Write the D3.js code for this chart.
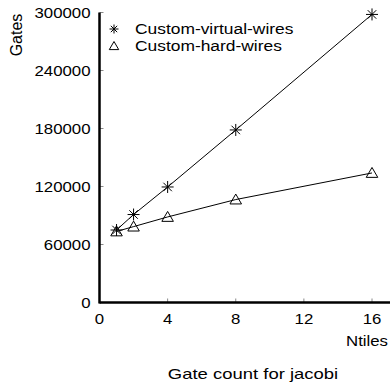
<!DOCTYPE html>
<html>
<head>
<meta charset="utf-8">
<script src="https://cdn.jsdelivr.net/npm/d3@7"></script>
<style>
    body { margin: 0; background: #fff; }
    svg { display: block; font-family: "Liberation Sans", Arial, sans-serif; }
</style>
</head>
<body>
<div id="chart"></div>
<script>
// data
const ntiles = [1, 2, 4, 8, 16];
const virtualWires = [75000, 91000, 119500, 178500, 298000];
const hardWires = [73500, 78500, 88500, 106500, 134000];
const xTicks = [0, 4, 8, 12, 16];
const yTicks = [0, 60000, 120000, 180000, 240000, 300000];
const seriesNames = ["Custom-virtual-wires", "Custom-hard-wires"];

const width = 390, height = 387;
const stretch = 1.2; // the original text is a bit wider than it is tall

const svg = d3.select("#chart")
    .append("svg")
    .attr("width", width)
    .attr("height", height);

const x = d3.scaleLinear().domain([0, 16]).range([99.5, 372]);
const y = d3.scaleLinear().domain([0, 300000]).range([302.5, 12.5]);

// text helper: place at (tx, ty), widen horizontally
const label = (sel, tx, ty, size, anchor) => sel
    .attr("transform", (d, i) => `translate(${tx(d, i)},${ty(d, i)}) scale(${stretch},1)`)
    .attr("text-anchor", anchor)
    .attr("font-size", size);

// ticks (inside the plot)
svg.append("g")
    .attr("stroke", "#888")
    .attr("stroke-width", 1)
    .selectAll("line")
    .data(xTicks.slice(1))
    .join("line")
    .attr("x1", d => x(d)).attr("x2", d => x(d))
    .attr("y1", y(0)).attr("y2", y(0) - 4);

svg.append("g")
    .attr("stroke", "#888")
    .attr("stroke-width", 1)
    .selectAll("line")
    .data(yTicks.slice(1))
    .join("line")
    .attr("x1", x(0)).attr("x2", x(0) + 4)
    .attr("y1", d => y(d)).attr("y2", d => y(d));

// axis lines
svg.append("line")
    .attr("x1", x(0)).attr("x2", width)
    .attr("y1", y(0)).attr("y2", y(0))
    .attr("stroke", "#000").attr("stroke-width", 2.5);
svg.append("line")
    .attr("x1", x(0)).attr("x2", x(0))
    .attr("y1", y(0) + 1).attr("y2", y(300000))
    .attr("stroke", "#000").attr("stroke-width", 2.5);

// tick labels
svg.append("g")
    .selectAll("text")
    .data(xTicks)
    .join("text")
    .call(label, d => x(d), () => y(0) + 21.5, 14, "middle")
    .text(d => d);

svg.append("g")
    .selectAll("text")
    .data(yTicks)
    .join("text")
    .call(label, () => x(0) - 9, d => y(d) + 5, 14, "end")
    .text(d => d);

// axis titles
svg.append("text")
    .attr("transform", "translate(22,35) rotate(-90)")
    .attr("text-anchor", "middle")
    .attr("font-size", 16)
    .text("Gates");

svg.append("text")
    .datum("Ntiles")
    .call(label, () => 367, () => 345.5, 14, "middle")
    .text(d => d);

svg.append("text")
    .datum("Gate count for jacobi")
    .call(label, () => 253, () => 379, 15.4, "middle")
    .text(d => d);

// markers
const asterisk = (g, cx, cy, r) => {
    const p = d3.path();
    for (let a = 0; a < 4; a++) {
        const t = a * Math.PI / 4;
        p.moveTo(cx - r * Math.cos(t), cy - r * Math.sin(t));
        p.lineTo(cx + r * Math.cos(t), cy + r * Math.sin(t));
    }
    g.append("path").attr("d", p.toString())
        .attr("stroke", "#000").attr("stroke-width", 1).attr("fill", "none");
};

const triangle = (g, cx, cy, r) => {
    const p = d3.path();
    p.moveTo(cx, cy - r);
    p.lineTo(cx + r * 1.05, cy + r * 0.8);
    p.lineTo(cx - r * 1.05, cy + r * 0.8);
    p.closePath();
    g.append("path").attr("d", p.toString())
        .attr("stroke", "#000").attr("stroke-width", 1).attr("fill", "none");
};

const line = d3.line()
    .x(d => x(d[0]))
    .y(d => y(d[1]));

const plot = svg.append("g");

plot.append("path")
    .datum(d3.zip(ntiles, hardWires))
    .attr("d", line)
    .attr("fill", "none").attr("stroke", "#000").attr("stroke-width", 1);

plot.append("path")
    .datum(d3.zip(ntiles, virtualWires))
    .attr("d", line)
    .attr("fill", "none").attr("stroke", "#000").attr("stroke-width", 1);

ntiles.forEach((n, i) => {
    triangle(plot, x(n), y(hardWires[i]), 5.5);
    asterisk(plot, x(n), y(virtualWires[i]), 6);
});

// legend
const legend = svg.append("g");
asterisk(legend, 114, 29, 4.5);
triangle(legend, 114, 46, 4.5);
legend.selectAll("text")
    .data(seriesNames)
    .join("text")
    .call(label, () => 135, (d, i) => 34 + i * 17, 14.5, "start")
    .text(d => d);
</script>
</body>
</html>
